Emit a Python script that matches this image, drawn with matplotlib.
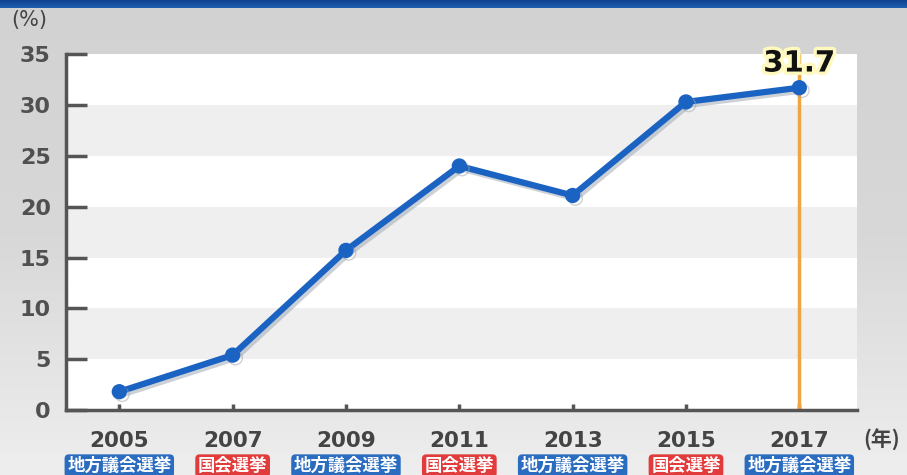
import numpy as np
import matplotlib.pyplot as plt
import matplotlib.patheffects as pe

plt.rcParams['font.family'] = ['DejaVu Sans', 'Noto Sans CJK JP']

# Data
years = [2005, 2007, 2009, 2011, 2013, 2015, 2017]
values = [1.8, 5.4, 15.7, 24.0, 21.1, 30.3, 31.7]
elections = ['地方議会選挙', '国会選挙', '地方議会選挙', '国会選挙',
             '地方議会選挙', '国会選挙', '地方議会選挙']
yticks = [0, 5, 10, 15, 20, 25, 30, 35]

blue = '#1b63c2'
red = '#e23b3b'
tag_blue = '#2a6cc0'
axis_gray = '#555555'

fig = plt.figure(figsize=(9.07, 4.75), dpi=100)

# background gradient
bg = fig.add_axes([0, 0, 1, 1], zorder=-10)
grad = np.linspace(0, 1, 256).reshape(-1, 1)
bg.imshow(grad, aspect='auto', cmap=plt.matplotlib.colors.LinearSegmentedColormap.from_list(
    'g', ['#d2d2d2', '#d8d8d8', '#eeeeee']), extent=[0, 1, 0, 1])
bg.axis('off')

# top blue strip
strip = fig.add_axes([0, 0.983, 1, 0.017])
strip.imshow(grad, aspect='auto', cmap=plt.matplotlib.colors.LinearSegmentedColormap.from_list(
    's', ['#0d3f8a', '#1f5fb0']), extent=[0, 1, 0, 1])
strip.axis('off')

ax = fig.add_axes([0.0728, 0.1368, 0.8722, 0.7492])
ax.set_xlim(2004.06, 2018.02)
ax.set_ylim(0, 35)
ax.set_facecolor('none')

# alternating bands
for i in range(7):
    lo = i * 5
    ax.axhspan(lo, lo + 5, color='white' if i % 2 == 0 else '#efefef', zorder=0, lw=0)

for s in ['top', 'right']:
    ax.spines[s].set_visible(False)
for s in ['left', 'bottom']:
    ax.spines[s].set_color(axis_gray)
    ax.spines[s].set_linewidth(2.5)

ax.set_yticks(yticks)
ax.set_yticklabels([str(t) for t in yticks], fontsize=16, color='#505050')
ax.tick_params(axis='y', direction='in', length=15, width=2.5, color=axis_gray, pad=11)
ax.set_xticks(years)
ax.set_xticklabels([str(y) for y in years], fontsize=15.5, color='#444444')
ax.tick_params(axis='x', direction='in', length=4, width=2.5, color=axis_gray, pad=15)
for lab in ax.get_yticklabels() + ax.get_xticklabels():
    lab.set_fontweight('semibold')

# highlight line for latest year
ax.axvline(years[-1], color='#f0a640', lw=2.5, zorder=2)

ax.plot(years, values, color=blue, lw=4.5, marker='o', ms=10, zorder=3,
        solid_capstyle='round',
        path_effects=[pe.SimpleLineShadow(offset=(2, -2), shadow_color='#9aa4b0', alpha=0.5),
                      pe.Normal()])

ax.text(years[-1], values[-1] + 1.0, f'{values[-1]:.1f}', ha='center', va='bottom',
        fontsize=21, fontweight='bold', color='#111111', zorder=5,
        path_effects=[pe.withStroke(linewidth=5, foreground='#fff9c0')])

# election type tags
for x, e in zip(years, elections):
    c = tag_blue if e == '地方議会選挙' else red
    ax.text(x, -5.5, e, ha='center', va='center', fontsize=12.5, fontweight='bold',
            color='white', family=['Noto Sans CJK JP'],
            bbox=dict(boxstyle='round,pad=0.15,rounding_size=0.25', fc=c, ec='none'))

fig.text(0.012, 0.957, '(%)', ha='left', va='center', fontsize=15, color='#444444')
fig.text(0.972, 0.073, '(年)', ha='center', va='center', fontsize=15, fontweight='bold',
         color='#444444', family=['Noto Sans CJK JP'])

fig.savefig('out.png', dpi=100)
